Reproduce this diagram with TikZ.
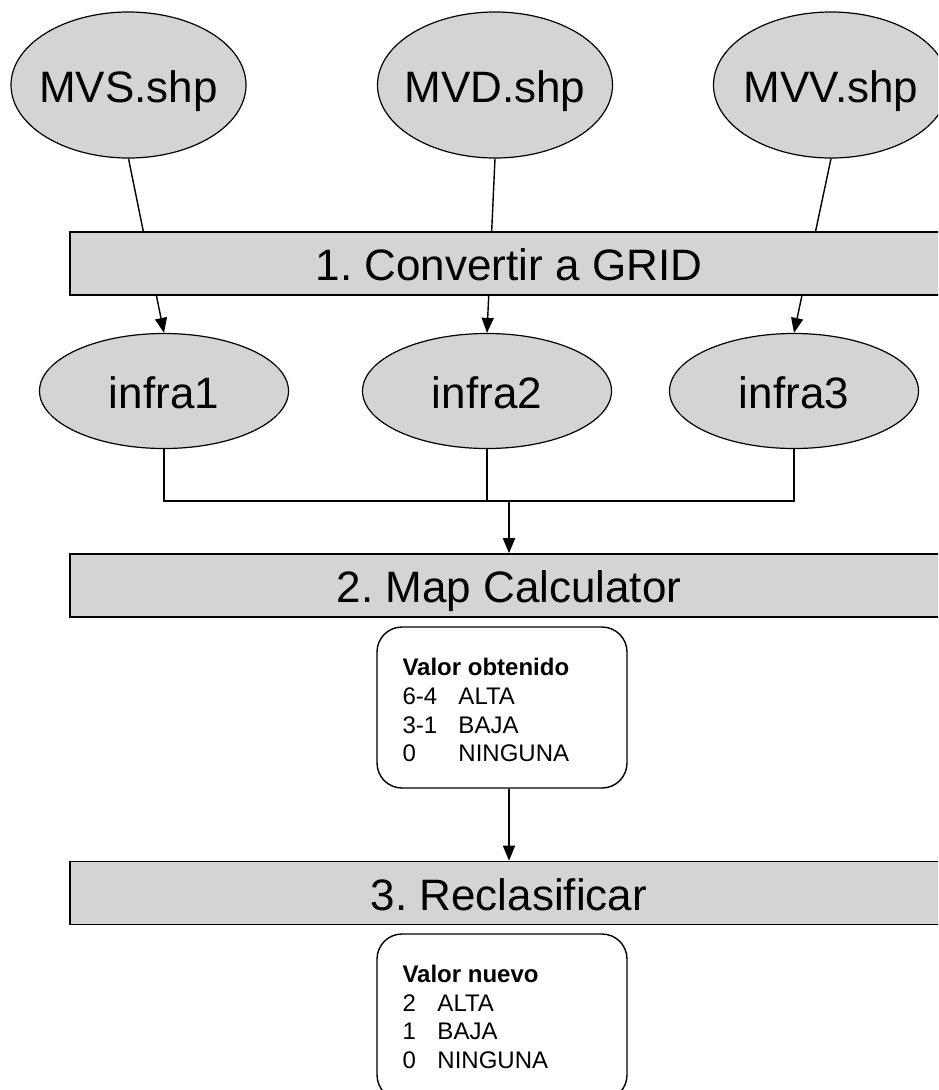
\documentclass[tikz,border=0pt]{standalone}
\usepackage{fontspec}
\setmainfont{Liberation Sans}
\usetikzlibrary{shapes.geometric,arrows.meta,backgrounds,calc}
\definecolor{boxgray}{RGB}{212,212,212}
% zero-width label so that the oval keeps its given size
\newcommand{\ovallabel}[1]{\makebox[0pt]{#1}}
\frenchspacing

\begin{document}
\begin{tikzpicture}[x=1pt,y=-1pt,
  big/.style={font=\fontsize{44}{52}\selectfont, text height=34pt, text depth=0pt, inner sep=0pt},
  oval/.style={big, ellipse, draw, fill=boxgray, line width=1.2pt},
  stage/.style={big, rectangle, draw, fill=boxgray, line width=1.6pt,
                minimum width=878pt, minimum height=63pt},
  note/.style={rectangle, rounded corners=25pt, draw, fill=white,
               line width=1.4pt, minimum width=250pt},
  notetext/.style={font=\fontsize{24}{28.6}\selectfont, align=left,
                   anchor=north west, inner sep=0pt},
  link/.style={line width=1.3pt},
  flow/.style={line width=1.4pt, -{Triangle[length=15pt,width=12pt]}}
]
\useasboundingbox (0,0) rectangle (938,1090);
\clip (0,0) rectangle (938,1090);

% input shapefiles
\node[oval, minimum width=235pt, minimum height=146pt] (mvs) at (128.5,85) {\ovallabel{MVS.shp}};
\node[oval, minimum width=235pt, minimum height=146pt] (mvd) at (495,85) {\ovallabel{MVD.shp}};
\node[oval, minimum width=235pt, minimum height=146pt] (mvv) at (831,85) {\ovallabel{MVV.shp}};

% step 1
\node[stage] (grid) at (509,263.5) {1. Convertir a GRID};

% rasters
\node[oval, minimum width=249pt, minimum height=115pt] (i1) at (164,391) {\ovallabel{infra1}};
\node[oval, minimum width=249pt, minimum height=115pt] (i2) at (487,391) {\ovallabel{infra2}};
\node[oval, minimum width=249pt, minimum height=115pt] (i3) at (794,391) {\ovallabel{infra3}};

% step 2
\node[stage] (calc) at (509,585.5) {2. Map Calculator};
\node[note, minimum height=161pt] (vo) at (502,707.5) {};
\node[notetext] (vot) at ($(vo.north west)+(26,32)$)
  {\textbf{Valor obtenido}\\
   \makebox[56pt][l]{6-4}ALTA\\
   \makebox[56pt][l]{3-1}BAJA\\
   \makebox[56pt][l]{0}NINGUNA};

% step 3
\node[stage] (recl) at (509,893) {3. Reclasificar};
\node[note, minimum height=166pt] (vn) at (502,1017) {};
\node[notetext] (vnt) at ($(vn.north west)+(26,31.5)$)
  {\textbf{Valor nuevo}\\
   \makebox[35pt][l]{2}ALTA\\
   \makebox[35pt][l]{1}BAJA\\
   \makebox[35pt][l]{0}NINGUNA};

\coordinate (jn) at (509,501);

\begin{scope}[on background layer]
  \draw[flow] (mvs.south) -- (i1.north);
  \draw[flow] (mvd.south) -- (i2.north);
  \draw[flow] (mvv.south) -- (i3.north);
  \draw[link] (i1.south) |- (jn) -| (i3.south);
  \draw[link] (i2.south) -- (i2.south |- jn);
  \draw[flow, line width=2pt] (jn) -- (calc.north);
  \draw[flow, line width=1.6pt] (vo.south -| recl.north) -- (recl.north);
\end{scope}
\end{tikzpicture}
\end{document}
